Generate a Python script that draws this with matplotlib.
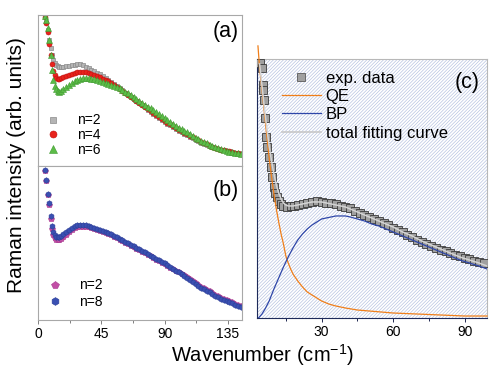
import matplotlib
matplotlib.use("Agg")
import matplotlib.pyplot as plt
from matplotlib.lines import Line2D
from matplotlib.patches import Rectangle
from matplotlib.ticker import MultipleLocator

plt.rcParams["font.family"] = ["Liberation Sans", "DejaVu Sans"]
plt.rcParams["mathtext.fontset"] = "custom"
plt.rcParams["mathtext.rm"] = "Liberation Sans"
plt.rcParams["hatch.linewidth"] = 0.45

# ---- panel (a) / (b): wavenumber grid shared by all series
wn_ab = [5, 6, 7, 8, 9, 10, 11, 12, 13, 14, 15, 16,
         18, 20, 22, 24, 26, 28, 30, 32, 34, 36, 38, 40,
         42, 44, 46, 48, 50, 52, 54, 56, 58, 60,
         62, 64, 66, 68, 70, 72, 74, 76, 78, 80,
         82, 84, 86, 88, 90, 92, 94, 96, 98, 100,
         102, 104, 106, 108, 110, 112, 114, 116, 118, 120,
         122, 124, 126, 128, 130, 132, 134, 136, 138, 140, 142, 144]

a_n2 = [150, 144, 136, 126, 118, 111, 106, 103, 101, 100, 99, 99,
        99, 100, 100, 101, 101, 102, 102, 101, 99, 98, 96, 95,
        93, 92, 90, 88, 86, 84, 82, 80, 78, 76,
        73, 71, 69, 67, 65, 63, 61, 59, 56, 54,
        52, 50, 48, 46, 44, 42, 41, 39, 37, 35,
        34, 32, 31, 29, 28, 26, 25, 23, 22, 21,
        20, 19, 18, 17, 16, 16, 15, 15, 14, 13, 13, 12]
a_n4 = [149, 143, 134, 122, 111, 102, 95, 91, 88, 87, 87, 88,
        89, 90, 91, 92, 93, 94, 94, 94, 94, 93, 92, 91,
        90, 89, 87, 86, 85, 83, 81, 79, 77, 75,
        73, 71, 69, 67, 65, 63, 61, 59, 57, 55,
        53, 51, 49, 47, 45, 43, 42, 40, 38, 36,
        35, 33, 32, 30, 29, 27, 26, 24, 23, 22,
        20, 19, 18, 17, 16, 16, 15, 15, 14, 13, 13, 12]
a_n6 = [150, 146, 138, 126, 111, 96, 86, 80, 77, 75, 74, 75,
        77, 79, 81, 83, 85, 86, 87, 88, 88, 88, 87, 87,
        86, 85, 84, 83, 82, 81, 80, 79, 78, 76,
        74, 73, 71, 69, 67, 65, 63, 61, 59, 58,
        56, 54, 52, 50, 48, 46, 44, 42, 40, 38,
        37, 35, 34, 32, 30, 28, 27, 25, 24, 23,
        21, 20, 19, 18, 17, 16, 15, 14, 14, 13, 13, 12]

b_n2 = [149, 139, 125, 115, 101, 91, 85, 82, 80, 80, 80, 81,
        83, 85, 88, 90, 92, 93, 93, 93, 93, 93, 92, 91,
        90, 89, 88, 87, 86, 85, 83, 82, 80, 79,
        77, 76, 74, 73, 71, 70, 68, 67, 65, 64,
        62, 60, 59, 57, 56, 54, 52, 51, 49, 48,
        46, 45, 43, 41, 39, 37, 35, 33, 32, 30,
        29, 27, 25, 24, 22, 21, 20, 19, 18, 16, 15, 14]
b_n8 = [150, 140, 126, 117, 104, 94, 88, 85, 83, 83, 83, 84,
        86, 88, 90, 92, 94, 95, 95, 95, 95, 94, 93, 92,
        91, 90, 89, 88, 87, 86, 84, 83, 81, 80,
        78, 77, 75, 74, 72, 71, 69, 68, 66, 64,
        63, 61, 60, 58, 57, 55, 53, 51, 49, 48,
        46, 44, 42, 40, 38, 36, 34, 32, 31, 29,
        28, 26, 24, 23, 21, 20, 19, 18, 17, 15, 14, 13]

# ---- panel (c)
wn_exp = [4.2, 4.8, 5.3, 5.6, 5.9, 6.2, 6.6, 7.2, 7.8, 8.6, 9.3, 9.9,
          10.6, 11.4, 12.2, 13, 14, 15.6, 17, 18.5, 20, 22, 24, 26, 28,
          30, 32, 34, 36, 38, 40, 42, 44, 46, 48, 50, 52, 54, 56, 58,
          60, 62, 64, 66, 68, 70, 72, 74, 76, 78, 80, 82, 84, 86, 88,
          90, 92, 94, 96, 98]
exp_data = [255, 250, 233, 228, 218, 200, 181, 171, 161, 151, 141, 131,
            125, 121, 117, 114, 112, 111, 112, 112, 113, 114, 115, 116, 117,
            116, 115, 115, 114, 112, 111, 110, 107, 105, 103, 101, 99, 97, 95, 93,
            90, 88, 86, 83, 81, 78, 76, 74, 72, 70, 68, 67, 65, 63, 62,
            60, 59, 57, 56, 55]

wn_qe = [3.3, 4, 5, 6, 7, 8, 9, 10, 11, 12, 13, 14, 15, 16, 17, 18, 20, 22,
         24, 26, 28, 30, 33, 36, 40, 45, 50, 55, 60, 70, 80, 90, 99.4]
qe = [272, 250, 228, 205, 182, 160, 141, 124, 109, 96, 84, 74, 62, 55, 49, 44,
      37, 31, 26, 23, 20, 17, 14, 12, 10, 8, 7, 6, 5, 4, 3, 2, 2]

wn_bp = [3.5, 5, 6.5, 8, 10, 12, 14, 16, 18, 20, 22, 24, 26, 28, 30, 32, 34,
         36, 38, 40, 42, 45, 48, 51, 54, 57, 60, 64, 68, 72, 76, 80, 84, 88,
         92, 96, 99.4]
bp = [0, 4, 10, 17, 29, 40, 51, 61, 70, 78, 84, 89, 93, 96, 99, 100, 101,
      102, 102, 102, 101, 99, 97, 94, 92, 89, 86, 82, 78, 74, 70, 66, 62, 58,
      55, 52, 49]

wn_fit = [4, 5, 6, 7, 8, 9, 10, 11, 12, 13, 14, 15, 16, 18, 20, 22, 24, 26,
          28, 30, 32, 34, 36, 38, 40, 42, 45, 48, 51, 54, 57, 60, 64, 68, 72,
          76, 80, 84, 88, 92, 96, 99.4]
fit = [254, 232, 210, 190, 172, 157, 144, 133, 125, 119, 115, 113, 112, 112,
       113, 114, 115, 116, 116, 116, 115, 114, 113, 112, 111, 109, 106, 103,
       100, 97, 94, 91, 86, 82, 77, 73, 69, 65, 61, 58, 55, 52]

fig = plt.figure(figsize=(5.0, 3.85), dpi=100)
ax_a = fig.add_axes([0.076, 0.569, 0.408, 0.392])
ax_b = fig.add_axes([0.076, 0.169, 0.408, 0.400])
ax_c = fig.add_axes([0.514, 0.174, 0.460, 0.673])

spine_grey = "#a8a8a8"

for ax in (ax_a, ax_b):
    ax.set_xlim(0, 145)
    ax.xaxis.set_major_locator(MultipleLocator(45))
    ax.xaxis.set_minor_locator(MultipleLocator(22.5))
    ax.tick_params(axis="x", which="major", direction="out", length=3,
                   width=0.7, color="#808080", labelsize=10, pad=2)
    ax.tick_params(axis="x", which="minor", direction="out", length=2,
                   width=0.7, color="#808080")
    ax.set_yticks([])
    for s in ax.spines.values():
        s.set_color(spine_grey)
        s.set_linewidth(0.8)

ax_a.tick_params(axis="x", labelbottom=False)
ax_a.set_ylim(0, 151)
ax_b.set_ylim(0, 154)

ax_a.plot(wn_ab, a_n2, ls="none", marker="s", ms=3.4, mfc="#b4b4b4",
          mec="#8a8a8a", mew=0.5, label="n=2")
ax_a.plot(wn_ab, a_n4, ls="none", marker="o", ms=3.6, mfc="#e8231c",
          mec="#c01010", mew=0.4, label="n=4")
ax_a.plot(wn_ab, a_n6, ls="none", marker="^", ms=4.2, mfc="#5cbc48",
          mec="#3f9a30", mew=0.4, label="n=6")
ax_a.legend(loc="lower left", bbox_to_anchor=(0.04, 0.06), frameon=False,
            fontsize=10, handlelength=1.0, handletextpad=1.2,
            labelspacing=0.05, borderpad=0, borderaxespad=0, markerscale=1.4)
ax_a.text(0.985, 0.89, "(a)", transform=ax_a.transAxes, ha="right",
          va="center", fontsize=15.5)

ax_b.plot(wn_ab, b_n2, ls="none", marker="p", ms=4.2, mfc="#c24fa6",
          mec="#a83a90", mew=0.4, label="n=2")
ax_b.plot(wn_ab, b_n8, ls="none", marker="h", ms=4.0, mfc="#3a50b2",
          mec="#2a3c96", mew=0.4, label="n=8")
ax_b.legend(loc="lower left", bbox_to_anchor=(0.05, 0.07), frameon=False,
            fontsize=10, handlelength=1.0, handletextpad=1.2,
            labelspacing=0.2, borderpad=0, borderaxespad=0, markerscale=1.4)
ax_b.text(0.985, 0.84, "(b)", transform=ax_b.transAxes, ha="right",
          va="center", fontsize=15.5)

# ---- panel (c)
ax_c.set_xlim(2.9, 99.4)
ax_c.set_ylim(0, 259)
ax_c.add_patch(Rectangle((0, 0), 1, 1, transform=ax_c.transAxes,
                         facecolor="white", edgecolor="#b2bedf", lw=0,
                         hatch="//////////", zorder=0))
ax_c.xaxis.set_major_locator(MultipleLocator(30))
ax_c.xaxis.set_minor_locator(MultipleLocator(15))
ax_c.tick_params(axis="x", which="major", direction="out", length=3,
                 width=0.7, color="#202850", labelsize=10, pad=2)
ax_c.tick_params(axis="x", which="minor", direction="out", length=2,
                 width=0.7, color="#202850")
ax_c.set_yticks([])
ax_c.spines["bottom"].set_color("#1e2a5a")
ax_c.spines["left"].set_color("#1e2a5a")
ax_c.spines["top"].set_color("#b8b8b8")
ax_c.spines["right"].set_color("#b8b8b8")
for s in ax_c.spines.values():
    s.set_linewidth(0.8)

ax_c.plot(wn_exp, exp_data, ls="none", marker="s", ms=5.4, mfc="#a0a0a0",
          mec="#3a3a3a", mew=0.6, zorder=3)
ax_c.plot(wn_qe, qe, color="#f07f1a", lw=0.9, zorder=4, clip_on=False)
ax_c.plot(wn_bp, bp, color="#2e46a8", lw=0.9, zorder=4)
ax_c.plot(wn_fit, fit, color="#d4d4d4", lw=1.1, zorder=5)

handles = [
    Line2D([], [], ls="none", marker="s", ms=5.2, mfc="#a0a0a0",
           mec="#5a5a5a", mew=0.6),
    Line2D([], [], color="#f07f1a", lw=0.9),
    Line2D([], [], color="#2e46a8", lw=0.9),
    Line2D([], [], color="#c8c8c8", lw=1.2),
]
ax_c.legend(handles, ["exp. data", "QE", "BP", "total fitting curve"],
            loc="upper left", bbox_to_anchor=(0.11, 0.955), frameon=False,
            fontsize=12, handlelength=2.3, handletextpad=0.3,
            labelspacing=0.2, borderpad=0, borderaxespad=0)
ax_c.text(0.97, 0.91, "(c)", transform=ax_c.transAxes, ha="right",
          va="center", fontsize=15.5)

fig.text(0.034, 0.571, "Raman intensity (arb. units)", rotation=90,
         ha="center", va="center", fontsize=15)
fig.text(0.525, 0.078, r"Wavenumber (cm$^{-1}$)", ha="center", va="center",
         fontsize=14.5)

fig.savefig("out.png", dpi=100)
